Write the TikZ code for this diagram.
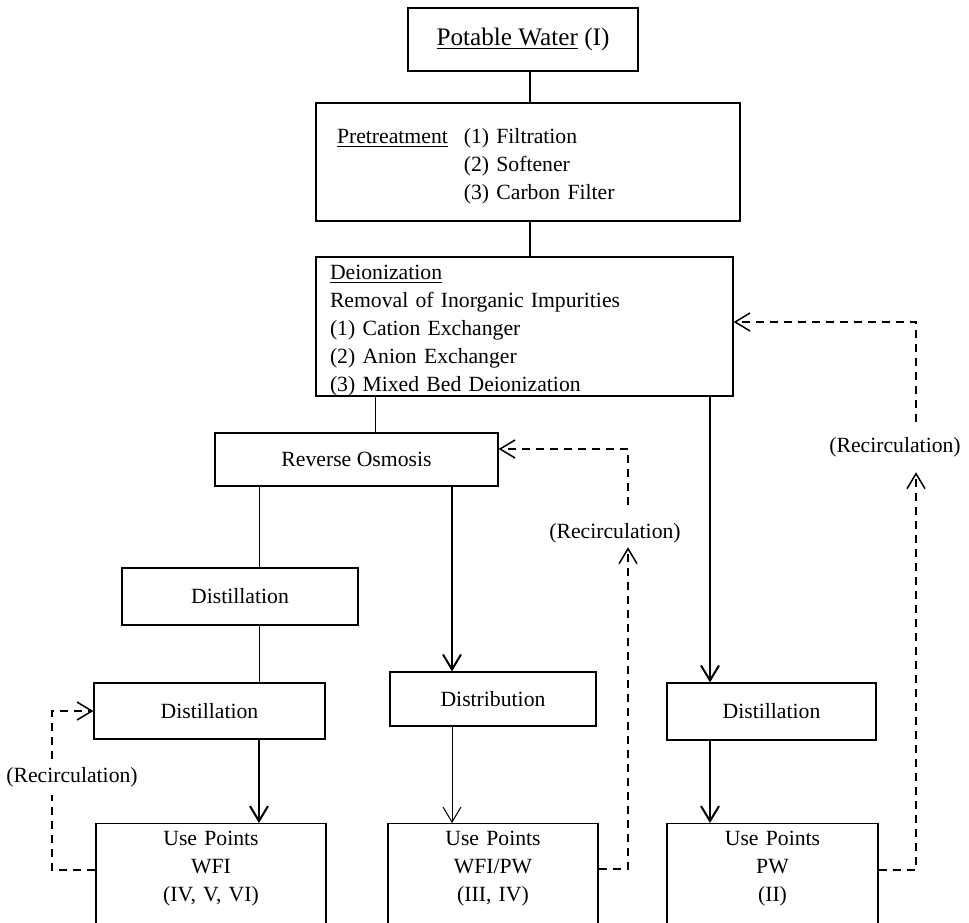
\documentclass[tikz,border=0pt]{standalone}
\usepackage{fontspec}
\setmainfont{Liberation Serif}
\usetikzlibrary{arrows.meta,calc}
\begin{document}
\begin{tikzpicture}[x=0.5pt,y=-0.5pt,
  every node/.style={font=\fontsize{10.85}{14}\selectfont},
  >={Straight Barb[length=7.5pt,width=9pt]},
  box/.style={draw,line width=0.6pt,inner sep=0pt},
  usebox/.style={box,anchor=north,align=center,inner ysep=4pt,text depth=40pt},
  feed/.style={line width=0.5pt},
  heavyfeed/.style={line width=1pt},
  recirc/.style={line width=0.75pt,dash pattern=on 4pt off 3pt},
  recnote/.style={inner sep=4pt}]
\clip (0,0) rectangle (969,922);
\coordinate (colA) at (259,0);
\coordinate (colB) at (375,0);
\coordinate (colC) at (452,0);
\coordinate (colD) at (710,0);
\coordinate (colE) at (530,0);
\coordinate (lane1) at (52,0);
\coordinate (lane2) at (628,0);
\coordinate (lane3) at (916,0);
\node[box,minimum width=115pt,minimum height=31.5pt,font=\fontsize{12.6}{15}\selectfont] (pot) at (523,39.5) {\underline{Potable Water} (I)};
\node[box,text width=191pt,inner xsep=10.5pt,minimum height=59pt,align=left] (pre) at (528,162)
  {\raisebox{-2pt}[\height][\depth]{\begin{tabular}{@{}l@{\hspace{8pt}}l@{}}\underline{Pretreatment} & (1) Filtration\\ & (2) Softener\\ & (3) Carbon Filter\end{tabular}}};
\node[box,text width=194.5pt,inner xsep=7pt,minimum height=69.5pt,align=left] (dei) at (524.5,326.5)
  {\rule{0pt}{11pt}\underline{Deionization}\\ Removal of Inorganic Impurities\\ (1) Cation Exchanger\\ (2) Anion Exchanger\\ (3) Mixed Bed Deionization};
\node[box,minimum width=141.5pt,minimum height=26.5pt] (ro) at (356.5,459.5) {Reverse Osmosis};
\node[box,minimum width=118pt,minimum height=28.5pt] (dis1) at (240,596.5) {Distillation};
\node[box,minimum width=115.5pt,minimum height=28pt] (dis2) at (209.5,711) {Distillation};
\node[box,minimum width=103pt,minimum height=27pt] (dbn) at (493,699) {Distribution};
\node[box,minimum width=104.5pt,minimum height=28.5pt] (dis3) at (771.5,711.5) {Distillation};
\node[usebox,text width=115pt] (use1) at (211,823) {Use Points\\ WFI\\ (IV, V, VI)};
\node[usebox,text width=105pt] (use2) at (493,823) {Use Points\\ WFI/PW\\ (III, IV)};
\node[usebox,text width=105.5pt] (use3) at (772.5,823) {Use Points\\ PW\\ (II)};
\node[recnote] (rec1) at (72,777) {(Recirculation)};
\node[recnote,inner ysep=2pt] (rec2) at (615,533) {(Recirculation)};
\node[recnote,inner ysep=7.5pt] (rec3) at (895,447) {(Recirculation)};
\draw[heavyfeed] (pot.south -| colE) -- (pre.north -| colE);
\draw[heavyfeed] (pre.south -| colE) -- (dei.north -| colE);
\draw[feed] (dei.south -| colB) -- (ro.north -| colB);
\draw[feed] (ro.south -| colA) -- (dis1.north -| colA);
\draw[feed] (dis1.south -| colA) -- (dis2.north -| colA);
\draw[heavyfeed,->] (dis2.south -| colA) -- (use1.north -| colA);
\draw[heavyfeed,->] (ro.south -| colC) -- (dbn.north -| colC);
\draw[feed,->] (dbn.south -| colC) -- (use2.north -| colC);
\draw[heavyfeed,->] (dei.south -| colD) -- (dis3.north -| colD);
\draw[heavyfeed,->] (dis3.south -| colD) -- (use3.north -| colD);
\draw[recirc] ($(use1.north west)+(0,47)$) -| (rec1.south -| lane1);
\draw[recirc,->] (rec1.north -| lane1) |- (dis2.west);
\draw[recirc,->] ($(use2.north east)+(0,46)$) -| (rec2.south -| lane2);
\draw[recirc,->,shorten <=7pt] (rec2.north -| lane2) |- ($(ro.east)+(0,-10.5)$);
\draw[recirc,->] ($(use3.north east)+(0,47)$) -| (rec3.south -| lane3);
\draw[recirc,->] (rec3.north -| lane3) |- ($(dei.east)+(0,-4.5)$);
\end{tikzpicture}
\end{document}
